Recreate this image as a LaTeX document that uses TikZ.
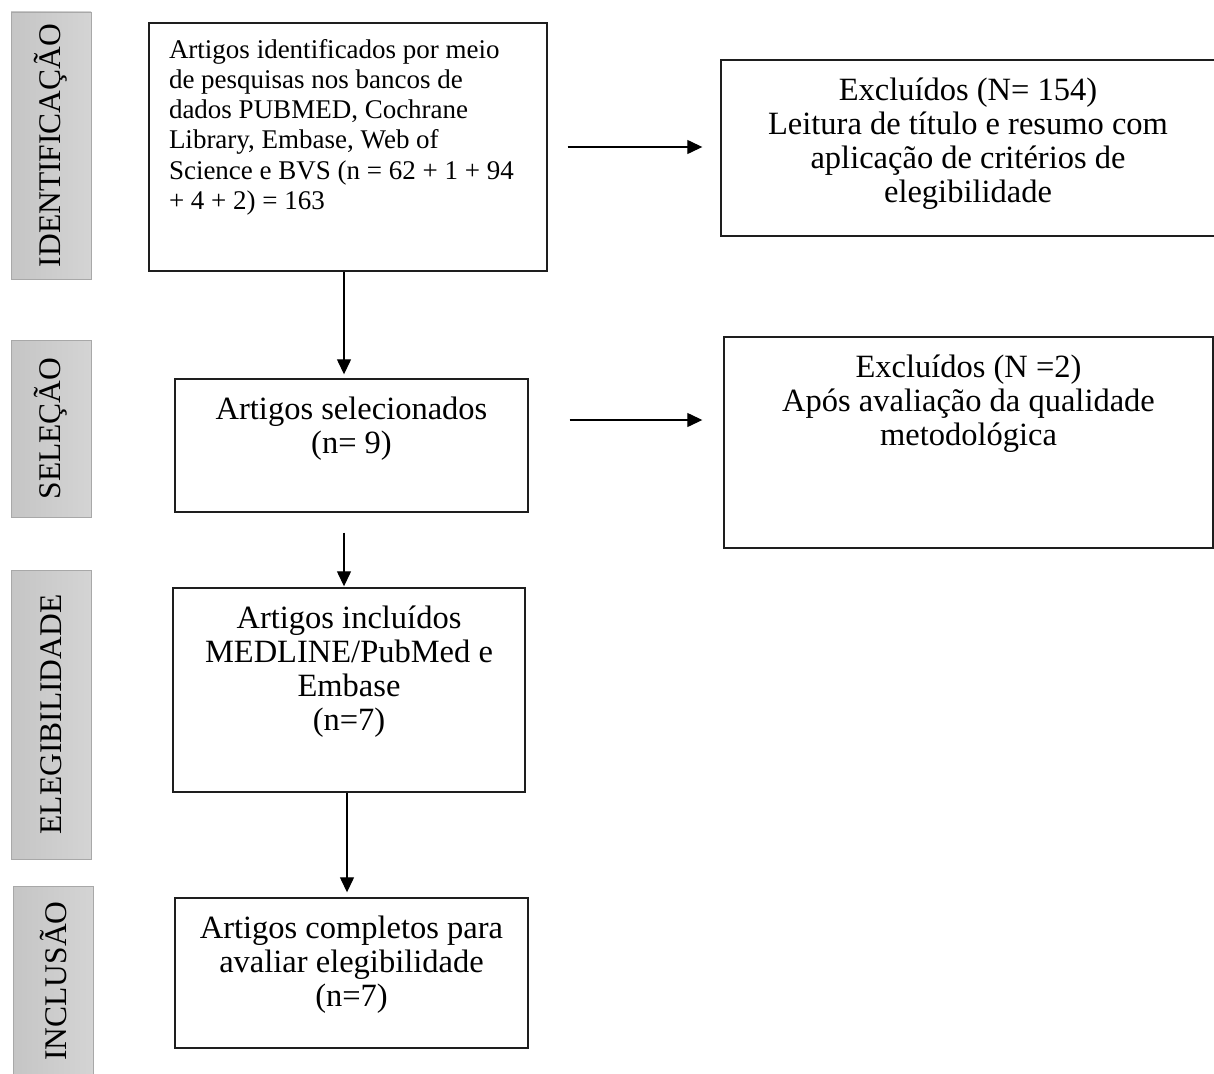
\documentclass[tikz,border=0pt]{standalone}
\usepackage{fontspec}
\setmainfont{Liberation Serif}
\usetikzlibrary{arrows.meta}

\definecolor{rotuloclaro}{HTML}{D4D4D4}
\definecolor{rotuloescuro}{HTML}{C5C5C5}
\definecolor{rotuloborda}{HTML}{A8A8A8}
\definecolor{traco}{HTML}{1E1E1E}

\newcommand{\caixatexto}[3]{\parbox[c][#2][t]{#1}{\centering\rule{0pt}{40pt}#3}}

\begin{document}
\begin{tikzpicture}[x=1pt, y=-1pt,
  caixa/.style={draw=traco, line width=1.4pt, inner sep=0pt, font=\fontsize{32.5}{34.3}\selectfont},
  rotulo/.style={draw=rotuloborda, line width=0.8pt, rotate=90, inner sep=0pt,
    left color=rotuloescuro, right color=rotuloclaro, minimum height=80pt,
    font=\fontsize{31.5}{34}\selectfont},
  seta/.style={line width=1.3pt, -{Triangle[length=15pt, width=14pt]}}]
\useasboundingbox (0,0) rectangle (1214,1073);

\node[rotulo, minimum width=267pt] (r1) at (51,145.5) {IDENTIFICAÇÃO};
\node[rotulo, minimum width=177pt] (r2) at (51,428.5) {SELEÇÃO};
\node[rotulo, minimum width=289pt] (r3) at (51,714.5) {ELEGIBILIDADE};
\node[rotulo, minimum width=190pt] (r4) at (53,981) {INCLUSÃO};

\node[caixa, font=\fontsize{27}{30.3}\selectfont] (ident) at (348,147)
  {\parbox[c][248pt][t]{398pt}{\raggedright\leftskip=20pt\rule{0pt}{35pt}Artigos identificados por meio\\
  de pesquisas nos bancos de\\ dados PUBMED, Cochrane\\ Library, Embase, Web of\\
  Science e BVS (n = 62 + 1 + 94\\ + 4 + 2) = 163}};
\node[caixa] (excl1) at (968,148)
  {\caixatexto{494pt}{176pt}{Excluídos (N= 154)\\ Leitura de título e resumo com\\ aplicação de critérios de\\ elegibilidade}};
\node[caixa] (selec) at (351.5,445.5)
  {\caixatexto{353pt}{133pt}{Artigos selecionados\\ (n= 9)}};
\node[caixa] (excl2) at (968.5,442.5)
  {\caixatexto{489pt}{211pt}{Excluídos (N =2)\\ Após avaliação da qualidade\\ metodológica}};
\node[caixa] (incl) at (349,690)
  {\caixatexto{352pt}{204pt}{Artigos incluídos\\ MEDLINE/PubMed e\\ Embase\\ (n=7)}};
\node[caixa] (compl) at (351.5,973)
  {\caixatexto{353pt}{150pt}{Artigos completos para\\ avaliar elegibilidade\\ (n=7)}};

\draw[seta, shorten <=20pt, shorten >=18pt] (ident.east) -- (ident.east -| excl1.west);
\draw[seta, shorten <=41pt, shorten >=21pt] ([yshift=25.5pt]selec.east) -- ([yshift=25.5pt]selec.east -| excl2.west);
\draw[seta, shorten >=4pt] ([xshift=-4pt]ident.south) -- ([xshift=-4pt]ident.south |- selec.north);
\draw[seta, shorten <=20pt, shorten >=1pt] ([xshift=-7.5pt]selec.south) -- ([xshift=-7.5pt]selec.south |- incl.north);
\draw[seta, shorten >=5pt] ([xshift=-2pt]incl.south) -- ([xshift=-2pt]incl.south |- compl.north);
\end{tikzpicture}
\end{document}
